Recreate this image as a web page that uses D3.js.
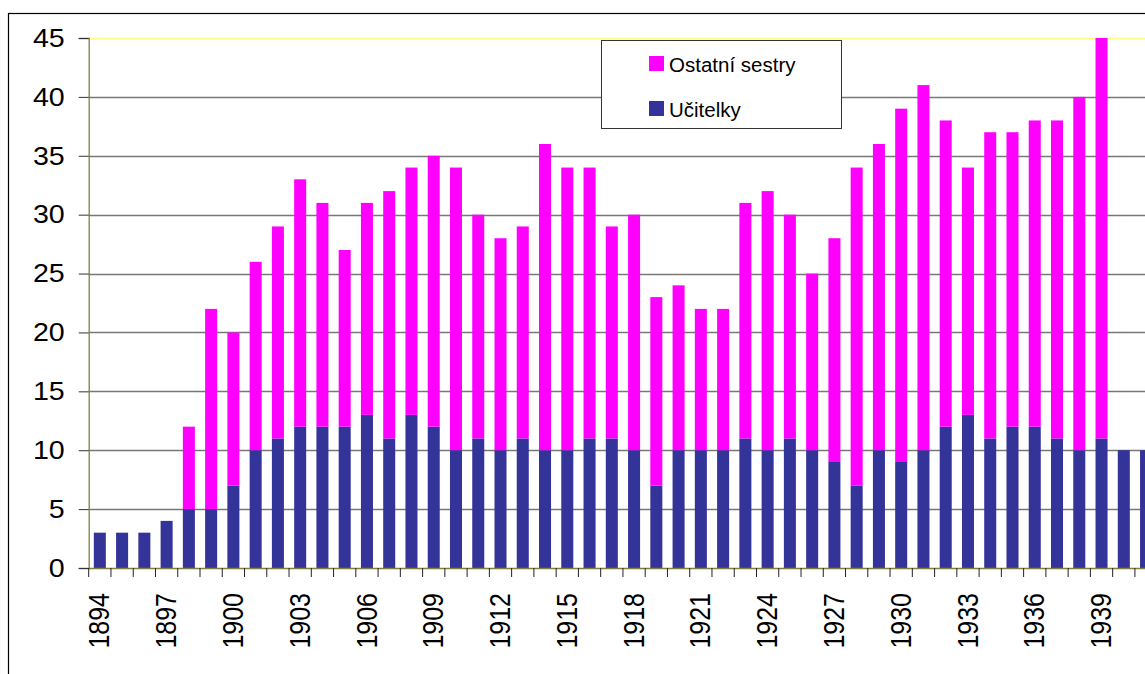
<!DOCTYPE html>
<html>
<head>
<meta charset="utf-8">
<script src="https://cdn.jsdelivr.net/npm/d3@7"></script>
<style>
  html, body { margin: 0; padding: 0; background: #fff; }
  svg { display: block; font-family: "Liberation Sans", Arial, sans-serif; }
</style>
</head>
<body>
<svg id="chart" width="1145" height="674"></svg>
<script>
// ---- data ----
const years = d3.range(1894, 1942);
const ucitelky = [3,3,3,4,5,5,7,10,11,12,12,12,13,11,13,12,10,11,10,11,10,10,11,11,10,7,10,10,10,11,10,11,10,9,7,10,9,10,12,13,11,12,12,11,10,11,10,10];
const ostatni  = [0,0,0,0,7,17,13,16,18,21,19,15,18,21,21,23,24,19,18,18,26,24,23,18,20,16,14,12,12,20,22,19,15,19,27,26,30,31,26,21,26,25,26,27,30,34,0,0];
const yTicks = [0,5,10,15,20,25,30,35,40,45];
const xLabelYears = [1894,1897,1900,1903,1906,1909,1912,1915,1918,1921,1924,1927,1930,1933,1936,1939];
const seriesNames = ["Ostatní sestry", "Učitelky"];
const seriesColors = {"Ostatní sestry": "#ff00ff", "Učitelky": "#333399"};

const svg = d3.select("#chart");
const W = 1145, H = 674;
const x0 = 88.7, stepPx = 22.26;

const x = d3.scaleBand()
  .domain(years)
  .range([x0, x0 + stepPx * years.length])
  .paddingInner(0.46)
  .paddingOuter(0.23);
const y = d3.scaleLinear().domain([0, 45]).range([568, 38]);

// outer frame
svg.append("rect").attr("x", 8.5).attr("y", 13.5).attr("width", 1200).attr("height", 700)
  .attr("fill", "#fff").attr("stroke", "#000").attr("stroke-width", 1.2);

// gridlines
svg.append("g").selectAll("line").data(yTicks.filter(t => t > 0)).join("line")
  .attr("x1", x0).attr("x2", W)
  .attr("y1", d => Math.round(y(d)) + 0.5).attr("y2", d => Math.round(y(d)) + 0.5)
  .attr("stroke", d => d === 45 ? "#ffff88" : "#777")
  .attr("stroke-width", d => d === 45 ? 2 : 1.4);

// stacked bars
const table = years.map((yr, i) => ({year: yr, "Učitelky": ucitelky[i], "Ostatní sestry": ostatni[i]}));
const stack = d3.stack().keys(["Učitelky", "Ostatní sestry"])(table);
svg.append("g").selectAll("g").data(stack).join("g")
  .attr("fill", s => seriesColors[s.key])
  .selectAll("rect").data(s => s.filter(d => d[1] > d[0])).join("rect")
  .attr("x", d => x(d.data.year))
  .attr("width", x.bandwidth())
  .attr("y", d => y(d[1]))
  .attr("height", d => y(d[0]) - y(d[1]));

// y axis
const yAxis = d3.axisLeft(y).tickValues(yTicks).tickSize(10).tickPadding(14);
const gy = svg.append("g").attr("transform", `translate(${x0},0)`).call(yAxis);
gy.select(".domain").attr("stroke", "#808040").attr("stroke-width", 1.3);
gy.selectAll(".tick line").attr("stroke", "#333");
gy.selectAll(".tick text").attr("font-size", 26).attr("fill", "#000")
  .attr("font-family", "Liberation Sans, Arial, sans-serif")
  .attr("transform", "scale(1.1,1)")
  .attr("x", -24 / 1.1);

// x axis
const xAxis = d3.axisBottom(x).tickSize(0).tickFormat(d => xLabelYears.includes(d) ? d : "");
const gx = svg.append("g").attr("transform", "translate(0,568)").call(xAxis);
gx.select(".domain").remove();
svg.append("line").attr("x1", x0).attr("x2", W).attr("y1", 568.5).attr("y2", 568.5)
  .attr("stroke", "#808040").attr("stroke-width", 1.5);
// tick marks at band boundaries
svg.append("g").selectAll("line").data(years).join("line")
  .attr("x1", d => x(d) - (x.step() - x.bandwidth()) / 2)
  .attr("x2", d => x(d) - (x.step() - x.bandwidth()) / 2)
  .attr("y1", 568).attr("y2", 577).attr("stroke", "#222").attr("stroke-width", 1);
gx.selectAll(".tick text")
  .attr("font-size", 26).attr("fill", "#000")
  .attr("font-family", "Liberation Sans, Arial, sans-serif")
  .attr("text-anchor", "end")
  .attr("dy", "0.35em")
  .attr("x", 0).attr("y", 0)
  .attr("transform", "translate(-1,25) rotate(-90) scale(0.96,1.16)");

// legend
const lg = svg.append("g");
lg.append("rect").attr("x", 601.5).attr("y", 40.5).attr("width", 240).attr("height", 88)
  .attr("fill", "#fff").attr("stroke", "#333").attr("stroke-width", 1);
const items = lg.selectAll("g.item").data(seriesNames).join("g").attr("class", "item")
  .attr("transform", (d, i) => `translate(649,${56 + i * 45})`);
items.append("rect").attr("width", 15).attr("height", 15).attr("fill", d => seriesColors[d]);
items.append("text").attr("x", 20).attr("y", 15.5).attr("font-size", 20.5).attr("fill", "#000").text(d => d);
</script>
</body>
</html>
